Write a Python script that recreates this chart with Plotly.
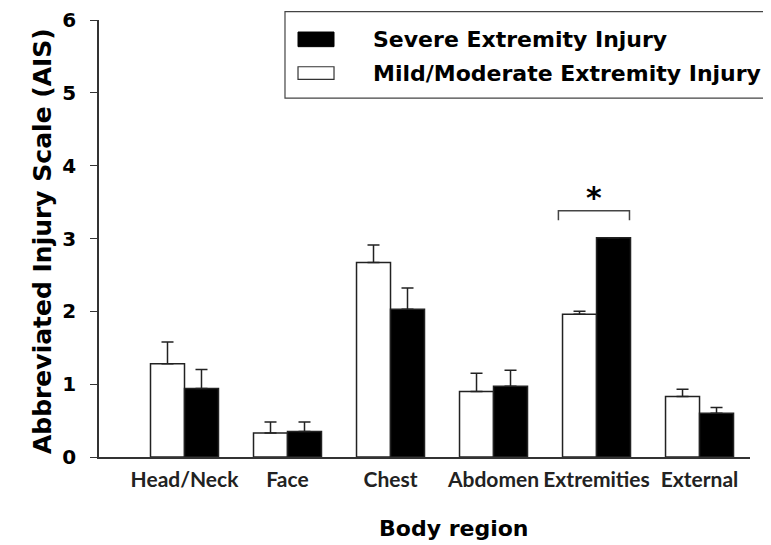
import plotly.graph_objects as go

# data
regions = ['Head/Neck', 'Face', 'Chest', 'Abdomen', 'Extremities', 'External']
mild_mean = [1.28, 0.33, 2.67, 0.90, 1.96, 0.83]
mild_err = [0.30, 0.15, 0.24, 0.25, 0.04, 0.10]
severe_mean = [0.94, 0.35, 2.03, 0.97, 3.01, 0.60]
severe_err = [0.26, 0.13, 0.29, 0.22, 0.0, 0.08]
zeros = [0] * len(regions)

sig_region = 'Extremities'
bar_w = 0.33  # width of one bar in category units

fig = go.Figure()

# white bars come first in each group
fig.add_trace(go.Bar(
    x=regions, y=mild_mean, name='Mild/Moderate Extremity Injury',
    marker=dict(color='white', line=dict(color='#222222', width=1.5)),
    error_y=dict(type='data', symmetric=False, array=mild_err, arrayminus=zeros,
                 color='#222222', thickness=1.5, width=6),
))
fig.add_trace(go.Bar(
    x=regions, y=severe_mean, name='Severe Extremity Injury',
    marker=dict(color='black', line=dict(color='#222222', width=1.5)),
    error_y=dict(type='data', symmetric=False, array=severe_err, arrayminus=zeros,
                 color='#222222', thickness=1.5, width=6),
))

# significance bracket over the Extremities pair
i = regions.index(sig_region)
top = max(mild_mean[i] + mild_err[i], severe_mean[i] + severe_err[i])
yb = top + 0.37
fig.add_shape(type='path', xref='x', yref='y',
              path=f'M {i - bar_w - 0.04} {yb - 0.13} L {i - bar_w - 0.04} {yb} '
                   f'L {i + bar_w - 0.01} {yb} L {i + bar_w - 0.01} {yb - 0.13}',
              line=dict(color='#444444', width=1.5))
fig.add_annotation(x=i - 0.02, y=yb + 0.18, xref='x', yref='y', text='<b>*</b>',
                   showarrow=False, xanchor='center', yanchor='middle',
                   font=dict(family='DejaVu Sans', size=30, color='black'))

# legend drawn by hand (wide swatches, boxed)
legend_font = dict(family='DejaVu Sans', size=22, color='black')
fig.add_shape(type='rect', xref='paper', yref='paper', x0=0.2857, x1=1.031, y0=0.821, y1=1.019,
              line=dict(color='#444444', width=1.2), fillcolor='white', layer='below')
fig.add_shape(type='rect', xref='paper', yref='paper', x0=0.3057, x1=0.3610, y0=0.939, y1=0.9725,
              line=dict(color='black', width=1), fillcolor='black')
fig.add_shape(type='rect', xref='paper', yref='paper', x0=0.3057, x1=0.3610, y0=0.864, y1=0.893,
              line=dict(color='#333333', width=1.2), fillcolor='white')
fig.add_annotation(x=0.418, y=0.955, xref='paper', yref='paper', xanchor='left', yanchor='middle',
                   text='<b>Severe Extremity Injury</b>', showarrow=False, font=legend_font)
fig.add_annotation(x=0.418, y=0.878, xref='paper', yref='paper', xanchor='left', yanchor='middle',
                   text='<b>Mild/Moderate Extremity Injury</b>', showarrow=False, font=legend_font)

# axis titles as annotations for exact placement
fig.add_annotation(x=-0.0876, y=0.494, xref='paper', yref='paper', textangle=-90,
                   xanchor='center', yanchor='middle',
                   text='<b>Abbreviated Injury Scale (AIS)</b>', showarrow=False,
                   font=dict(family='DejaVu Sans', size=25, color='black'))
fig.add_annotation(x=0.545, y=-0.1625, xref='paper', yref='paper',
                   xanchor='center', yanchor='middle',
                   text='<b>Body region</b>', showarrow=False,
                   font=dict(family='DejaVu Sans', size=22, color='black'))

# the page body adds an 8px offset, so margins are pulled in by 8px
fig.update_layout(
    width=771, height=545,
    margin=dict(l=91, r=29, t=12, b=96),
    plot_bgcolor='white', paper_bgcolor='white',
    barmode='group', bargap=0.34, bargroupgap=0,
    showlegend=False,
)
fig.update_xaxes(
    range=[-0.83, 5.49], showline=True, linecolor='#333333', linewidth=1.5,
    ticks='', showgrid=False, zeroline=False, automargin=False, ticklabelstandoff=3,
    tickfont=dict(family='Lato', size=21, color='#222222', weight='bold'),
)
fig.update_yaxes(
    range=[0, 6], dtick=1, showline=True, linecolor='#333333', linewidth=1.5,
    ticks='outside', ticklen=7, tickwidth=1.2, tickcolor='#333333',
    showgrid=False, zeroline=False, automargin=False, ticklabelstandoff=10,
    tickfont=dict(family='DejaVu Sans', size=20, color='black', weight='bold'),
)

fig.write_html('out.html')
